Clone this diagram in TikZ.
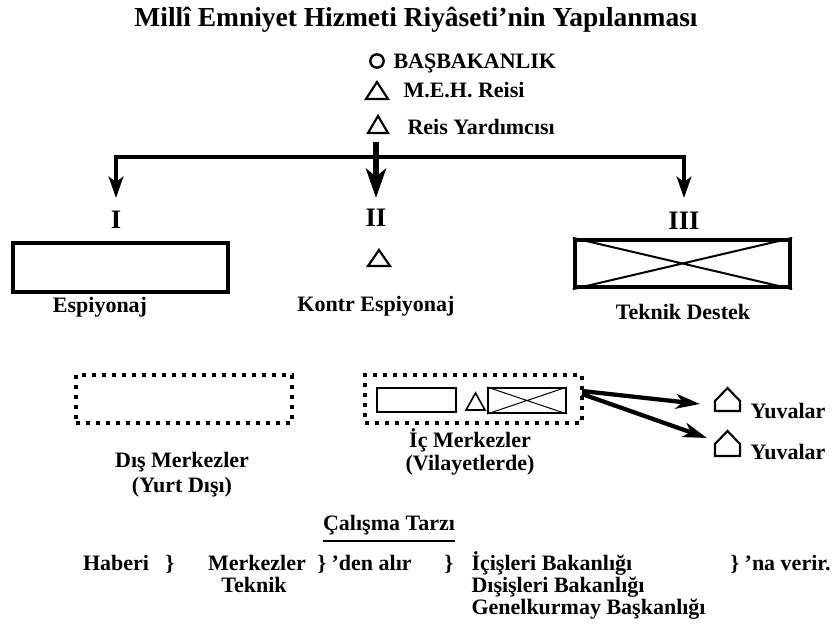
\documentclass[tikz,border=0pt]{standalone}
\usepackage{fontspec}
\setmainfont{Liberation Serif}
\usetikzlibrary{arrows.meta}

\tikzset{every picture/.style={line width=0.75pt}}
\tikzset{
  yazi/.style={font=\bfseries\fontsize{16.5}{19}\selectfont, inner sep=0pt, anchor=base},
  baslik/.style={font=\bfseries\fontsize{20.6}{24}\selectfont, inner sep=0pt, anchor=base},
  rakam/.style={font=\bfseries\fontsize{20}{24}\selectfont, inner sep=0pt, anchor=base},
  kutu/.style={draw, line width=3.2pt, inner sep=0pt},
  noktali/.style={draw, line width=3pt, dash pattern=on 3pt off 4.5pt, inner sep=0pt},
  ince/.style={draw, line width=1.5pt, inner sep=0pt},
  sekil/.style={line width=1.6pt, line join=miter},
  okkalin/.style={line width=4.5pt, -{Stealth[length=22pt,width=15pt,inset=6pt]}},
  ok/.style={line width=2.8pt, -{Stealth[length=16pt,width=11pt,inset=4pt]}},
  okyan/.style={line width=3.2pt, -{Stealth[length=18pt,width=11pt,inset=5pt]}}
}

\begin{document}
\begin{tikzpicture}[x=0.75pt,y=0.75pt,yscale=-1,xscale=1]
	\useasboundingbox (0,0) rectangle (832,632);

	% Title
	\node[baslik] (baslik) at (416,26) {Millî Emniyet Hizmeti Riyâseti’nin Yapılanması};

	% Top of the hierarchy
	\node[draw, circle, line width=1.8pt, minimum size=10pt, inner sep=0pt] (daire) at (377,61) {};
	\node[yazi, anchor=base west] (basbakan) at (393,68) {BAŞBAKANLIK};
	%Shape: Triangle
	\draw[sekil] (366,99) -- (377,82) -- (388,99) -- cycle ;
	\node[yazi, anchor=base west] (reis) at (403,97) {M.E.H. Reisi};
	%Shape: Triangle
	\draw[sekil] (368,133) -- (378,116) -- (388,133) -- cycle ;
	\node[yazi, anchor=base west] (yardimci) at (407,134) {Reis Yardımcısı};

	% Branches
	\coordinate (govde) at (376,142);
	\coordinate (orta) at (376,157);
	\coordinate (ucI) at (116,198);
	\coordinate (ucII) at (376,198);
	\coordinate (ucIII) at (684,198);
	\draw[ok] (orta) -| (ucI) ;
	\draw[ok] (orta) -| (ucIII) ;
	\draw[okkalin] (govde) -- (ucII) ;

	\node[rakam] (birimI) at (116,228) {I};
	\node[rakam] (birimII) at (376,226) {II};
	\node[rakam] (birimIII) at (684,229) {III};

	% I - Espiyonaj
	\node[kutu, minimum width=161.25pt, minimum height=36.75pt] (espKutu) at (120.5,267.5) {};
	\node[yazi] (esp) at (100,312) {Espiyonaj};

	% II - Kontr Espiyonaj
	%Shape: Triangle
	\draw[sekil] (368,266) -- (379,250) -- (390,266) -- cycle ;
	\node[yazi] (kontr) at (376,311) {Kontr Espiyonaj};

	% III - Teknik Destek
	\node[kutu, minimum width=161.25pt, minimum height=35.25pt] (tdKutu) at (682.5,263.5) {};
	\draw[line width=1.5pt] (tdKutu.north west) -- (tdKutu.south east) (tdKutu.south west) -- (tdKutu.north east) ;
	\node[yazi] (td) at (683,319) {Teknik Destek};

	% Centres
	\node[noktali, minimum width=162pt, minimum height=36pt] (disKutu) at (184,399) {};
	\node[yazi] (dis) at (182,467) {Dış Merkezler};
	\node[yazi] (yurt) at (182,492) {(Yurt Dışı)};

	\node[noktali, minimum width=162.75pt, minimum height=36pt] (icKutu) at (473.5,399) {};
	\node[ince, minimum width=59.25pt, minimum height=18pt] (icEsp) at (416.5,400) {};
	%Shape: Triangle
	\draw[line width=1.2pt] (466,410) -- (475.5,393) -- (485,410) -- cycle ;
	\node[ince, minimum width=58.5pt, minimum height=18.75pt] (icTd) at (527,400.5) {};
	\draw (icTd.north west) -- (icTd.south east) (icTd.south west) -- (icTd.north east) ;
	\node[yazi] (ic) at (470,447) {İç Merkezler};
	\node[yazi] (vilayet) at (470,470) {(Vilayetlerde)};

	% Yuvalar
	\coordinate (icCikis1) at (582,391);
	\coordinate (icCikis2) at (582,394);
	\coordinate (yuvaUc1) at (700,404);
	\coordinate (yuvaUc2) at (707,438);
	\draw[okyan] (icCikis1) -- (yuvaUc1) ;
	\draw[okyan] (icCikis2) -- (yuvaUc2) ;
	%Shape: House
	\draw[sekil] (715,411) -- (715,401) -- (727.5,388) -- (740,401) -- (740,411) -- cycle ;
	\node[yazi, anchor=base west] (yuva1) at (750,418) {Yuvalar};
	%Shape: House
	\draw[sekil] (715,456) -- (715,444) -- (727.5,431) -- (740,444) -- (740,456) -- cycle ;
	\node[yazi, anchor=base west] (yuva2) at (750,459) {Yuvalar};

	% Working method
	\node[yazi] (calisma) at (389,530) {Çalışma Tarzı};
	\draw[line width=1.5pt] ([yshift=8pt]calisma.base west) -- ([yshift=8pt]calisma.base east) ;

	\node[yazi] (haber) at (116,570) {Haberi};
	\node[yazi] (parantez1) at (170,570) {\}};
	\node[yazi] (merkez) at (257,570) {Merkezler};
	\node[yazi, anchor=base west] (alir) at (317,570) {\} ’den alır};
	\node[yazi] (parantez2) at (449,570) {\}};
	\node[yazi, anchor=base west] (icisleri) at (471,570) {İçişleri Bakanlığı};
	\node[yazi, anchor=base west] (verir) at (730,570) {\} ’na verir.};
	\node[yazi] (teknik) at (254,592) {Teknik};
	\node[yazi, anchor=base west] (disisleri) at (471,592) {Dışişleri Bakanlığı};
	\node[yazi, anchor=base west] (genelkurmay) at (471,614) {Genelkurmay Başkanlığı};

\end{tikzpicture}
\end{document}
